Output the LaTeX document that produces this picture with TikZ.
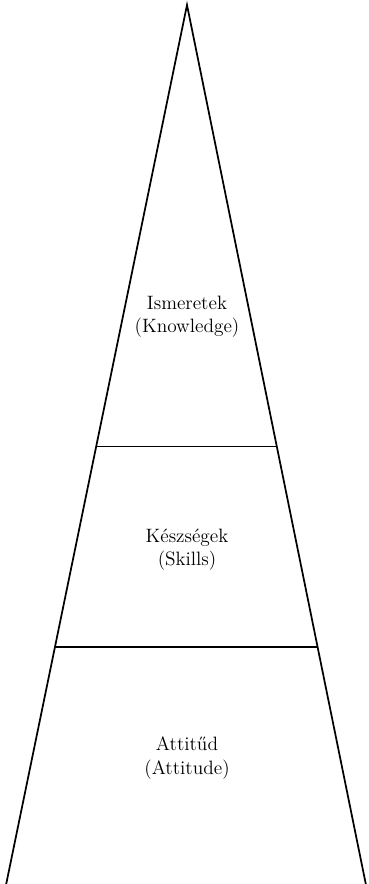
\documentclass[tikz,border=0pt]{standalone}
\usepackage{fontspec}
\usepackage{tikz}
\usetikzlibrary{calc,positioning}

\begin{document}
\begin{tikzpicture}[
    x=0.75pt, y=-0.75pt,
    layer/.style={align=center, font=\fontsize{14.5}{17.5}\selectfont},
    edge/.style={line width=1.3pt, line join=miter}
]
    \useasboundingbox (0,0) rectangle (368,884);

    % Triangle corners
    \coordinate (apex) at (187,5);
    \coordinate (baseL) at (6,885);
    \coordinate (baseR) at (366,885);

    % Outline
    \draw[edge] (baseL) -- (apex) -- (baseR) -- cycle;

    % Dividing lines
    \coordinate (d1L) at ($(apex)!0.5017!(baseL)$);
    \coordinate (d1R) at ($(apex)!0.5017!(baseR)$);
    \coordinate (d2L) at ($(apex)!0.7297!(baseL)$);
    \coordinate (d2R) at ($(apex)!0.7297!(baseR)$);
    \draw[edge] (d1L) -- (d1R);
    \draw[edge] (d2L) -- (d2R);

    % Labels
    \node[layer] (knowledge) at (187,317) {Ismeretek\\(Knowledge)};
    \node[layer] (skills) at (187,550) {Készségek\\(Skills)};
    \node[layer] (attitude) at (187,758) {Attitűd\\(Attitude)};
\end{tikzpicture}
\end{document}
